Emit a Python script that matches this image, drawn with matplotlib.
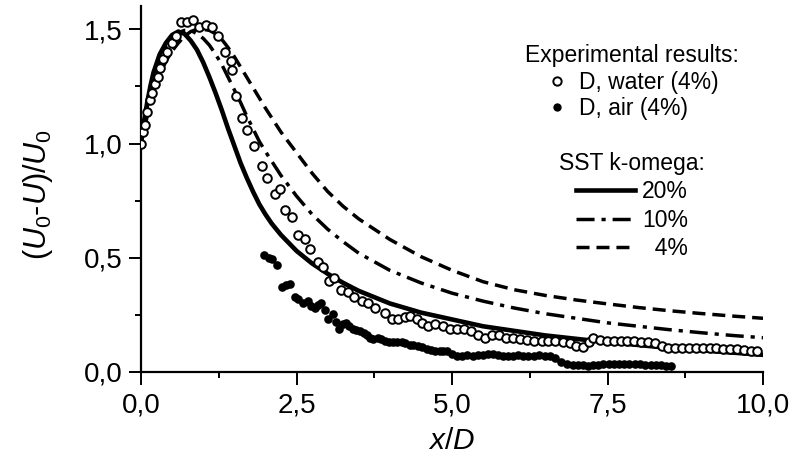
import matplotlib.pyplot as plt
from matplotlib.ticker import MultipleLocator, FuncFormatter
from matplotlib.lines import Line2D

plt.rcParams['font.family'] = ['Liberation Sans', 'DejaVu Sans']
plt.rcParams['mathtext.fontset'] = 'custom'
plt.rcParams['mathtext.rm'] = 'Liberation Sans'
plt.rcParams['mathtext.it'] = 'Liberation Sans:italic'

# SST k-omega curves
x_sst20 = [0.0, 0.05, 0.1, 0.15, 0.2, 0.3, 0.4, 0.5, 0.6, 0.7, 0.8, 0.9, 1.0, 1.1, 1.2, 1.3,
           1.4, 1.5, 1.6, 1.7, 1.8, 1.9, 2.0, 2.1, 2.25, 2.5, 2.75, 3.0, 3.25, 3.5, 4.0,
           4.5, 5.0, 5.5, 6.0, 6.5, 7.0, 7.5, 8.0, 8.5, 9.0, 9.5, 10.0]
y_sst20 = [1.0, 1.10, 1.18, 1.25, 1.31, 1.39, 1.44, 1.475, 1.49, 1.48, 1.45, 1.41, 1.355, 1.29,
           1.22, 1.145, 1.065, 0.99, 0.915, 0.85, 0.79, 0.735, 0.69, 0.65, 0.60, 0.53, 0.475,
           0.43, 0.39, 0.355, 0.30, 0.26, 0.23, 0.20, 0.18, 0.16, 0.145, 0.13, 0.118, 0.105,
           0.095, 0.085, 0.075]
x_sst10 = [0.0, 0.1, 0.2, 0.3, 0.4, 0.5, 0.6, 0.7, 0.8, 0.9, 1.0, 1.1, 1.2, 1.3, 1.4, 1.5,
           1.6, 1.7, 1.8, 1.9, 2.0, 2.25, 2.5, 2.75, 3.0, 3.25, 3.5, 4.0, 4.5, 5.0, 5.5,
           6.0, 6.5, 7.0, 7.5, 8.0, 8.5, 9.0, 9.5, 10.0]
y_sst10 = [1.0, 1.16, 1.28, 1.36, 1.42, 1.46, 1.485, 1.495, 1.495, 1.48, 1.46, 1.43, 1.39,
           1.345, 1.29, 1.235, 1.18, 1.12, 1.065, 1.01, 0.965, 0.86, 0.77, 0.69, 0.625, 0.57,
           0.52, 0.445, 0.39, 0.345, 0.31, 0.28, 0.255, 0.235, 0.215, 0.20, 0.185, 0.172,
           0.16, 0.15]
x_sst4 = [0.0, 0.1, 0.2, 0.3, 0.4, 0.5, 0.6, 0.7, 0.8, 0.9, 1.0, 1.1, 1.2, 1.3, 1.4, 1.5,
          1.6, 1.7, 1.8, 1.9, 2.0, 2.25, 2.5, 2.75, 3.0, 3.25, 3.5, 4.0, 4.5, 5.0, 5.5,
          6.0, 6.5, 7.0, 7.5, 8.0, 8.5, 9.0, 9.5, 10.0]
y_sst4 = [1.0, 1.12, 1.22, 1.30, 1.36, 1.405, 1.44, 1.47, 1.49, 1.50, 1.50, 1.495, 1.48,
          1.455, 1.42, 1.38, 1.335, 1.29, 1.245, 1.20, 1.155, 1.05, 0.96, 0.87, 0.79, 0.725,
          0.67, 0.58, 0.505, 0.445, 0.395, 0.36, 0.335, 0.315, 0.298, 0.282, 0.268, 0.256,
          0.245, 0.235]

# experiment, water (open circles)
x_water = [0.0, 0.03, 0.06, 0.1, 0.14, 0.18, 0.22, 0.27, 0.31, 0.36, 0.42, 0.5, 0.56,
           0.64, 0.74, 0.84, 0.94, 1.05, 1.14, 1.24, 1.35, 1.45, 1.47, 1.53, 1.63, 1.71,
           1.82, 1.94, 2.03, 2.15, 2.23, 2.32, 2.42, 2.53, 2.63, 2.72, 2.84, 2.92, 3.02,
           3.11, 3.22, 3.32, 3.43, 3.55, 3.65, 3.76, 3.92, 4.03, 4.13, 4.24, 4.32, 4.44,
           4.52, 4.61, 4.73, 4.85, 4.97, 5.08, 5.2, 5.31, 5.42, 5.53, 5.64, 5.75, 5.87,
           5.98, 6.1, 6.21, 6.32, 6.44, 6.55, 6.66, 6.78, 6.89, 7.0, 7.1, 7.2, 7.27, 7.38,
           7.49, 7.6, 7.71, 7.82, 7.93, 8.04, 8.15, 8.26, 8.37, 8.48, 8.59, 8.7, 8.81,
           8.92, 9.03, 9.14, 9.25, 9.36, 9.47, 9.58, 9.69, 9.8, 9.9]
y_water = [1.0, 1.05, 1.08, 1.14, 1.19, 1.22, 1.26, 1.29, 1.33, 1.37, 1.40, 1.44, 1.47,
           1.53, 1.53, 1.54, 1.51, 1.52, 1.51, 1.47, 1.40, 1.36, 1.32, 1.21, 1.11, 1.06,
           0.99, 0.90, 0.85, 0.78, 0.80, 0.71, 0.68, 0.60, 0.58, 0.54, 0.48, 0.46, 0.40,
           0.41, 0.36, 0.35, 0.33, 0.31, 0.30, 0.28, 0.26, 0.23, 0.23, 0.24, 0.245, 0.23,
           0.215, 0.20, 0.21, 0.20, 0.19, 0.19, 0.19, 0.18, 0.16, 0.15, 0.16, 0.16, 0.15,
           0.15, 0.145, 0.14, 0.135, 0.135, 0.135, 0.135, 0.13, 0.125, 0.115, 0.11, 0.13, 0.15, 0.14,
           0.135, 0.135, 0.135, 0.135, 0.135, 0.13, 0.13, 0.125, 0.115, 0.105, 0.105, 0.105, 0.105,
           0.105, 0.105, 0.105, 0.105, 0.10, 0.10, 0.10, 0.095, 0.09, 0.09]

# experiment, air (filled circles)
x_air = [1.98, 2.05, 2.1, 2.19, 2.27, 2.33, 2.39, 2.47, 2.53, 2.6, 2.68, 2.74, 2.79, 2.85,
         2.9, 2.95, 3.0, 3.08, 3.14, 3.19, 3.25, 3.3, 3.35, 3.4, 3.46, 3.52, 3.58, 3.63,
         3.68, 3.73, 3.81, 3.86, 3.92, 3.98, 4.05, 4.12, 4.19, 4.25, 4.32, 4.38, 4.45,
         4.52, 4.6, 4.66, 4.73, 4.8, 4.86, 4.92, 5.0, 5.08, 5.16, 5.24, 5.34, 5.42, 5.5,
         5.58, 5.66, 5.74, 5.82, 5.9, 5.98, 6.06, 6.14, 6.22, 6.31, 6.4, 6.49, 6.58, 6.66,
         6.75, 6.85, 6.94, 7.02, 7.1, 7.18, 7.26, 7.35, 7.43, 7.52, 7.6, 7.68, 7.77, 7.85,
         7.94, 8.03, 8.11, 8.2, 8.28, 8.36, 8.44, 8.52]
y_air = [0.51, 0.50, 0.495, 0.47, 0.37, 0.38, 0.385, 0.33, 0.32, 0.30, 0.31, 0.29, 0.28, 0.295,
         0.30, 0.27, 0.23, 0.255, 0.22, 0.19, 0.21, 0.215, 0.20, 0.19, 0.185, 0.18, 0.17, 0.16,
         0.15, 0.145, 0.15, 0.145, 0.135, 0.13, 0.13, 0.13, 0.13, 0.125, 0.12, 0.12, 0.115,
         0.11, 0.10, 0.095, 0.09, 0.09, 0.09, 0.09, 0.08, 0.07, 0.07, 0.075, 0.07, 0.075, 0.075,
         0.08, 0.08, 0.075, 0.07, 0.07, 0.07, 0.075, 0.07, 0.07, 0.07, 0.075, 0.07, 0.07, 0.06,
         0.045, 0.035, 0.03, 0.03, 0.03, 0.027, 0.03, 0.03, 0.035, 0.035, 0.035, 0.035, 0.035, 0.035,
         0.035, 0.035, 0.03, 0.03, 0.03, 0.03, 0.028, 0.027]

fig = plt.figure(figsize=(7.94, 4.58), dpi=100)
ax = fig.add_axes([0.1776, 0.1878, 0.7834, 0.7982])

ln20, = ax.plot(x_sst20, y_sst20, color='black', lw=3.3, zorder=2)
ln10, = ax.plot(x_sst10, y_sst10, color='black', lw=2.5, linestyle=(0, (5.2, 2.0, 1.2, 2.0)), zorder=2)
ln4, = ax.plot(x_sst4, y_sst4, color='black', lw=2.5, linestyle=(0, (3.75, 2.0)), zorder=2)

ax.plot(x_air, y_air, 'o', color='black', ms=6.2, mew=0, zorder=3)
ax.plot(x_water, y_water, 'o', mfc='white', mec='black', ms=6.2, mew=1.4, zorder=4)

ax.set_xlim(0, 10)
ax.set_ylim(0, 1.6)
ax.xaxis.set_major_locator(MultipleLocator(2.5))
ax.xaxis.set_minor_locator(MultipleLocator(1.25))
ax.yaxis.set_major_locator(MultipleLocator(0.5))
ax.yaxis.set_minor_locator(MultipleLocator(0.25))
fmt = FuncFormatter(lambda v, p: f'{v:.1f}'.replace('.', ','))
ax.xaxis.set_major_formatter(fmt)
ax.yaxis.set_major_formatter(fmt)
ax.tick_params(which='major', direction='out', length=9, width=1.4, labelsize=20, pad=4)
ax.tick_params(axis='x', which='major', pad=6)
ax.tick_params(which='minor', direction='out', length=4.5, width=1.4)

for s in ['top', 'right']:
    ax.spines[s].set_visible(False)
for s in ['left', 'bottom']:
    ax.spines[s].set_linewidth(1.6)

ax.set_xlabel(r'$x/D$', fontsize=21.5, labelpad=6)
ax.set_ylabel(r'$\mathit{(U_0}$-$\mathit{U)/U_0}$', fontsize=22)
ax.yaxis.set_label_coords(-0.138, 0.484)

h_w = Line2D([], [], ls='none', marker='o', mfc='white', mec='black', ms=6, mew=1.4)
h_a = Line2D([], [], ls='none', marker='o', color='black', ms=6, mew=0)
leg1 = ax.legend([h_w, h_a], ['D, water (4%)', 'D, air (4%)'],
                 title='Experimental results:', title_fontsize=16.5, fontsize=16.5,
                 frameon=False, loc='upper center',
                 bbox_to_anchor=(632 / 794, 1 - 33 / 458), bbox_transform=fig.transFigure,
                 borderpad=0, labelspacing=0.15, handlelength=1.0, handletextpad=0.45)
ax.add_artist(leg1)
ax.legend([ln20, ln10, ln4], ['20%', '10%', '  4%'],
          title='SST k-omega:', title_fontsize=16.5, fontsize=16.5,
          frameon=False, loc='upper center',
          bbox_to_anchor=(632 / 794, 1 - 141 / 458), bbox_transform=fig.transFigure,
          borderpad=0, labelspacing=0.22, handlelength=2.6, handletextpad=0.3)

fig.savefig('out.png', dpi=100)
